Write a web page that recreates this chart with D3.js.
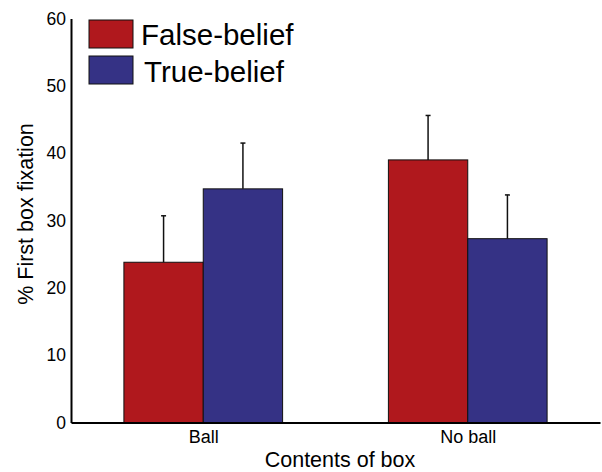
<!DOCTYPE html>
<html><head><meta charset="utf-8">
<script src="https://cdn.jsdelivr.net/npm/d3@7"></script>
<style>body{margin:0;background:#fff}svg{display:block}text{font-family:"Liberation Sans",Arial,sans-serif}</style>
</head><body><svg id="c" width="602" height="472"></svg>
<script>
const categories = ["Ball", "No ball"];
const seriesNames = ["False-belief", "True-belief"];
const falseBelief = [23.8, 39.0];
const trueBelief = [34.7, 27.3];
const falseErr = [6.9, 6.6];
const trueErr = [6.8, 6.5];
const yTicks = [0, 10, 20, 30, 40, 50, 60];
const colors = ["#B0181D", "#353285"];

const svg = d3.select("#c");
const x = d3.scaleLinear().domain([0.5, 2.5]).range([71, 600]);
const y = d3.scaleLinear().domain([0, 60]).range([422.5, 18.5]);
const bw = 0.3;

const data = [];
categories.forEach((c, i) => {
  data.push({cat: i + 1, s: 0, v: falseBelief[i], e: falseErr[i]});
  data.push({cat: i + 1, s: 1, v: trueBelief[i], e: trueErr[i]});
});

svg.selectAll("rect.bar").data(data).enter().append("rect")
  .attr("class", "bar")
  .attr("x", d => x(d.cat + (d.s === 0 ? -bw : 0)))
  .attr("width", d => x(d.cat + bw) - x(d.cat))
  .attr("y", d => y(d.v))
  .attr("height", d => y(0) - y(d.v))
  .attr("fill", d => colors[d.s])
  .attr("stroke", "#111").attr("stroke-width", 1);

const ex = d => x(d.cat + (d.s === 0 ? -bw / 2 : bw / 2));
svg.selectAll("line.err").data(data).enter().append("line")
  .attr("x1", ex).attr("x2", ex)
  .attr("y1", d => y(d.v)).attr("y2", d => y(d.v + d.e))
  .attr("stroke", "#111").attr("stroke-width", 1.5);
svg.selectAll("line.cap").data(data).enter().append("line")
  .attr("x1", d => ex(d) - 2.5).attr("x2", d => ex(d) + 2.5)
  .attr("y1", d => y(d.v + d.e)).attr("y2", d => y(d.v + d.e))
  .attr("stroke", "#111").attr("stroke-width", 1.5);

const FF = '"Liberation Sans",Arial,sans-serif';
// y axis
const yAxis = d3.axisLeft(y).tickValues(yTicks).tickSize(0).tickPadding(5);
const gy = svg.append("g").attr("transform", "translate(71,0)").call(yAxis);
gy.select(".domain").attr("stroke", "#000").attr("stroke-width", 2);
gy.selectAll("text").attr("font-size", 17.5).attr("fill", "#000").attr("font-family", FF);

// x axis
const xAxis = d3.axisBottom(x).tickValues([1, 2]).tickFormat((d, i) => categories[i]).tickSize(0).tickPadding(8);
const gx = svg.append("g").attr("transform", "translate(0,422.5)").call(xAxis);
gx.select(".domain").attr("stroke", "#000").attr("stroke-width", 2);
gx.selectAll("text").attr("font-size", 18).attr("fill", "#000").attr("font-family", FF);

svg.append("text").attr("x", 340).attr("y", 467).attr("text-anchor", "middle")
  .attr("font-size", 21.5).text("Contents of box");
svg.append("text").attr("transform", "translate(33,214) rotate(-90)").attr("text-anchor", "middle")
  .attr("font-size", 21.5).text("% First box fixation");

// legend
const leg = svg.append("g");
seriesNames.forEach((n, i) => {
  leg.append("rect").attr("x", 89).attr("y", 20 + i * 36).attr("width", 44).attr("height", 28)
    .attr("fill", colors[i]).attr("stroke", "#111").attr("stroke-width", 1);
  leg.append("text").attr("x", i === 0 ? 141 : 144).attr("y", 45 + i * 37)
    .attr("font-size", 29.5).text(n);
});
</script></body></html>
